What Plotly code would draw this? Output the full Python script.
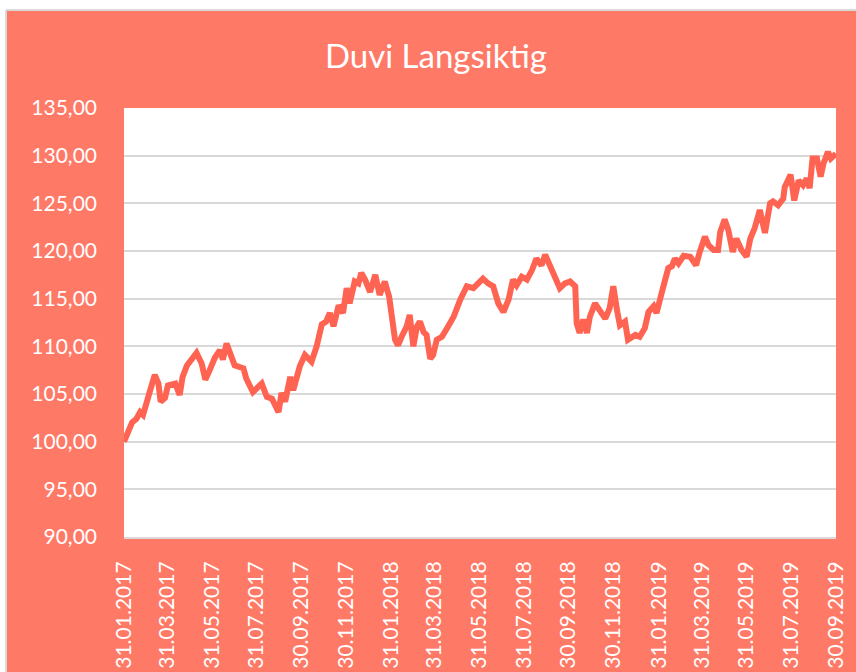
import plotly.graph_objects as go

# ---- data ----
dates = [
    "2017-01-31", "2017-02-11", "2017-02-17", "2017-02-22", "2017-02-26", "2017-03-03", "2017-03-07",
    "2017-03-14", "2017-03-19", "2017-03-22", "2017-03-28", "2017-04-01", "2017-04-11", "2017-04-17",
    "2017-04-21", "2017-04-27", "2017-05-10", "2017-05-17", "2017-05-22", "2017-05-28", "2017-06-04",
    "2017-06-11", "2017-06-15", "2017-06-20", "2017-06-27", "2017-07-01", "2017-07-13", "2017-07-17",
    "2017-07-26", "2017-08-07", "2017-08-14", "2017-08-21", "2017-08-30", "2017-09-03", "2017-09-08",
    "2017-09-15", "2017-09-19", "2017-09-28", "2017-10-05", "2017-10-14", "2017-10-21", "2017-10-28",
    "2017-11-03", "2017-11-08", "2017-11-13", "2017-11-20", "2017-11-26", "2017-12-01", "2017-12-05",
    "2017-12-12", "2017-12-17", "2017-12-21", "2017-12-26", "2018-01-02", "2018-01-09", "2018-01-15",
    "2018-01-22", "2018-01-28", "2018-02-05", "2018-02-09", "2018-02-14", "2018-02-21", "2018-02-25",
    "2018-03-02", "2018-03-07", "2018-03-11", "2018-03-16", "2018-03-20", "2018-03-25", "2018-03-29",
    "2018-04-03", "2018-04-10", "2018-04-17", "2018-04-26", "2018-05-05", "2018-05-14", "2018-05-23",
    "2018-05-30", "2018-06-05", "2018-06-12", "2018-06-19", "2018-06-26", "2018-07-03", "2018-07-10",
    "2018-07-16", "2018-07-21", "2018-07-28", "2018-08-04", "2018-08-11", "2018-08-17", "2018-08-24",
    "2018-08-29", "2018-09-05", "2018-09-11", "2018-09-18", "2018-09-25", "2018-10-02", "2018-10-09",
    "2018-10-11", "2018-10-15", "2018-10-20", "2018-10-25", "2018-10-29", "2018-11-05", "2018-11-12",
    "2018-11-19", "2018-11-25", "2018-11-30", "2018-12-05", "2018-12-09", "2018-12-16", "2018-12-20",
    "2018-12-30", "2019-01-05", "2019-01-12", "2019-01-17", "2019-01-24", "2019-01-28", "2019-02-04",
    "2019-02-09", "2019-02-13", "2019-02-18", "2019-02-22", "2019-02-27", "2019-03-06", "2019-03-15",
    "2019-03-23", "2019-03-28", "2019-04-04", "2019-04-09", "2019-04-16", "2019-04-22", "2019-04-25",
    "2019-05-01", "2019-05-06", "2019-05-12", "2019-05-17", "2019-05-24", "2019-05-31", "2019-06-05",
    "2019-06-11", "2019-06-18", "2019-06-25", "2019-07-02", "2019-07-06", "2019-07-13", "2019-07-20",
    "2019-07-22", "2019-07-30", "2019-08-04", "2019-08-10", "2019-08-16", "2019-08-21", "2019-08-25",
    "2019-08-29", "2019-09-04", "2019-09-09", "2019-09-13", "2019-09-19", "2019-09-23", "2019-09-30",
]
values = [
    100.0, 102.0, 102.4, 103.1, 102.8, 104.4, 105.2,
    107.0, 106.1, 104.2, 104.6, 105.9, 106.1, 104.9,
    106.8, 108.0, 109.3, 108.2, 106.5, 107.5, 108.8,
    109.6, 108.6, 110.3, 108.9, 108.0, 107.7, 106.6,
    105.2, 106.1, 104.7, 104.5, 103.1, 105.1, 104.2,
    106.8, 105.4, 107.9, 109.1, 108.4, 110.0, 112.3,
    112.6, 113.5, 112.1, 114.3, 113.5, 116.1, 114.5,
    116.8, 116.6, 117.7, 117.0, 115.7, 117.5, 115.4,
    116.8, 115.2, 110.7, 110.1, 111.0, 112.1, 113.3,
    110.0, 112.1, 112.6, 111.5, 111.2, 108.7, 109.1,
    110.7, 111.0, 111.9, 113.1, 114.9, 116.3, 116.1,
    116.6, 117.1, 116.6, 116.3, 114.5, 113.6, 114.9,
    117.0, 116.4, 117.3, 117.0, 118.0, 119.2, 118.5,
    119.6, 118.4, 117.0, 116.1, 116.6, 116.8, 116.3,
    112.4, 111.4, 112.8, 111.4, 113.1, 114.5, 113.8,
    112.9, 114.0, 116.3, 113.8, 112.2, 112.6, 110.7,
    111.2, 111.0, 111.9, 113.6, 114.2, 113.5, 115.6,
    117.3, 118.2, 118.4, 119.2, 118.7, 119.5, 119.4,
    118.5, 119.9, 121.5, 120.6, 120.1, 120.1, 122.0,
    123.3, 122.2, 119.9, 121.3, 120.1, 119.4, 121.3,
    122.4, 124.3, 121.9, 125.0, 125.2, 124.8, 125.5,
    126.7, 128.0, 125.3, 127.4, 126.9, 127.6, 126.6,
    129.7, 129.7, 127.8, 129.2, 130.4, 129.7, 130.2,
]

x_tick_dates = [
    "2017-01-31", "2017-03-31", "2017-05-31", "2017-07-31", "2017-09-30", "2017-11-30",
    "2018-01-31", "2018-03-31", "2018-05-31", "2018-07-31", "2018-09-30", "2018-11-30",
    "2019-01-31", "2019-03-31", "2019-05-31", "2019-07-31", "2019-09-30",
]
x_tick_labels = [
    "31.01.2017", "31.03.2017", "31.05.2017", "31.07.2017", "30.09.2017", "30.11.2017",
    "31.01.2018", "31.03.2018", "31.05.2018", "31.07.2018", "30.09.2018", "30.11.2018",
    "31.01.2019", "31.03.2019", "31.05.2019", "31.07.2019", "30.09.2019",
]
y_ticks = [90, 95, 100, 105, 110, 115, 120, 125, 130, 135]

title_text = "Duvi Langsiktig"

# ---- style ----
BG = "#FF7967"
LINE = "#FF6352"
GRID = "#D9D9D9"
FONT = "Lato"

fig = go.Figure()
fig.add_trace(go.Scatter(
    x=dates, y=values, mode="lines",
    line=dict(color=LINE, width=6),
    showlegend=False, hoverinfo="skip",
))

fig.update_layout(
    width=856, height=672,
    paper_bgcolor=BG, plot_bgcolor="white",
    margin=dict(l=124, r=20, t=108, b=135, pad=0, autoexpand=False),
    separators=",.",
    font=dict(family=FONT, color="white", size=21),
    title=dict(text=title_text, x=436 / 856, xanchor="center", xref="container",
               y=1 - 56 / 672, yanchor="middle", yref="container",
               font=dict(family=FONT, size=33, color="white")),
    xaxis=dict(
        type="date", range=["2017-01-31", "2019-09-30"], automargin=False,
        tickmode="array", tickvals=x_tick_dates, ticktext=x_tick_labels,
        tickangle=-90, showgrid=False, zeroline=False,
        showline=True, linecolor=GRID, linewidth=2,
        ticks="", ticklabelstandoff=14,
        tickfont=dict(family=FONT, size=21, color="white"),
    ),
    yaxis=dict(
        range=[90, 135], tickmode="array", tickvals=y_ticks, tickformat=".2f",
        automargin=False,
        showgrid=True, gridcolor=GRID, gridwidth=2, zeroline=False, showline=False,
        ticks="", ticklabelstandoff=26,
        tickfont=dict(family=FONT, size=21, color="white"),
    ),
)

# white page margin with a thin grey border (top and left of the chart box)
px_x = lambda p: (p - 124) / 712
px_y = lambda p: (537 - p) / 429
fig.add_shape(type="rect", xref="paper", yref="paper",
              x0=px_x(-20), x1=px_x(880), y0=px_y(10), y1=px_y(-20),
              fillcolor="white", line=dict(width=0), layer="above")
fig.add_shape(type="rect", xref="paper", yref="paper",
              x0=px_x(-20), x1=px_x(6), y0=px_y(700), y1=px_y(10),
              fillcolor="white", line=dict(width=0), layer="above")
fig.add_shape(type="line", xref="paper", yref="paper",
              x0=px_x(6), x1=px_x(880), y0=px_y(10), y1=px_y(10),
              line=dict(color=GRID, width=2), layer="above")
fig.add_shape(type="line", xref="paper", yref="paper",
              x0=px_x(6), x1=px_x(6), y0=px_y(700), y1=px_y(10),
              line=dict(color=GRID, width=2), layer="above")

fig.write_html("out.html")
